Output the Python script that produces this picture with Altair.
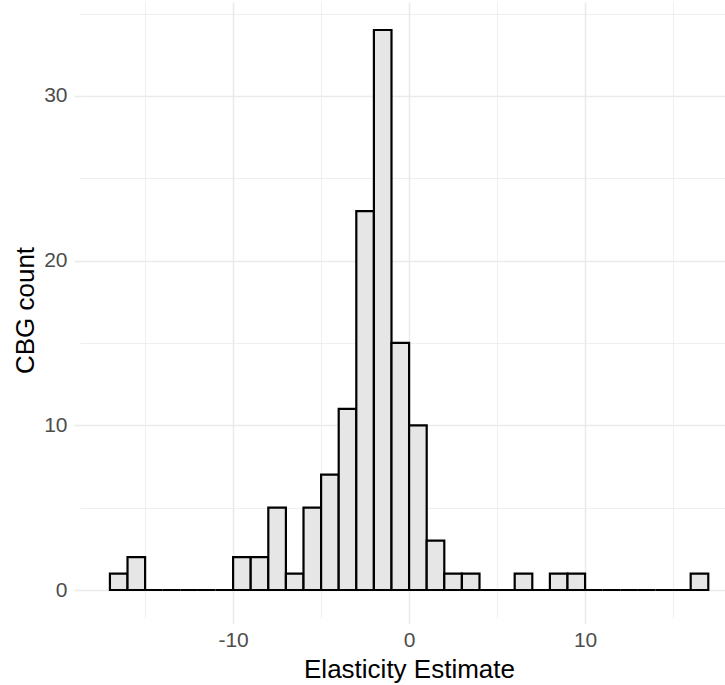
import altair as alt
import pandas as pd

# Histogram bins (binwidth 1) and counts
bin_start = [-17, -16, -15, -14, -13, -12, -11, -10, -9, -8, -7, -6, -5, -4, -3, -2, -1,
             0, 1, 2, 3, 4, 5, 6, 7, 8, 9, 10, 11, 12, 13, 14, 15, 16]
bin_end = [-16, -15, -14, -13, -12, -11, -10, -9, -8, -7, -6, -5, -4, -3, -2, -1, 0,
           1, 2, 3, 4, 5, 6, 7, 8, 9, 10, 11, 12, 13, 14, 15, 16, 17]
counts = [1, 2, 0, 0, 0, 0, 0, 2, 2, 5, 1, 5, 7, 11, 23, 34, 15, 10, 3, 1, 1,
          0, 0, 1, 0, 1, 1, 0, 0, 0, 0, 0, 0, 1]

x_grid_values = [-15, -10, -5, 0, 5, 10, 15]
y_grid_values = [0, 5, 10, 15, 20, 25, 30, 35]

df = pd.DataFrame({"start": bin_start, "end": bin_end, "count": counts})

FONT = "Liberation Sans"
GRID = "#EBEBEB"

major_width = {"condition": {"test": "datum.value % 10 === 0", "value": 1.6}, "value": 0.8}
major_tick = {"condition": {"test": "datum.value % 10 === 0", "value": 1}, "value": 0}

x_axis = alt.Axis(
    values=x_grid_values,
    labelExpr="datum.value % 10 === 0 ? '' + datum.value : ''",
    grid=True, gridColor=GRID, gridWidth=major_width,
    ticks=True, tickColor=GRID, tickSize=5, tickWidth=1.6, tickOpacity=major_tick,
    domain=False,
    labelFont=FONT, labelFontSize=21, labelColor="#4D4D4D",
    labelBaseline="alphabetic", labelPadding=23.7,
    labelFlush=False, labelOverlap=False,
    title="Elasticity Estimate",
    titleFont=FONT, titleFontSize=26, titleColor="black", titleFontWeight="normal",
    titleX=329, titleY=59, titleBaseline="alphabetic", titleAlign="center",
)

y_axis = alt.Axis(
    values=y_grid_values,
    labelExpr="datum.value % 10 === 0 ? '' + datum.value : ''",
    grid=True, gridColor=GRID, gridWidth=major_width,
    ticks=True, tickColor=GRID, tickSize=6, tickWidth=1.6, tickOpacity=major_tick,
    domain=False,
    labelFont=FONT, labelFontSize=21, labelColor="#4D4D4D",
    labelAlign="right", labelBaseline="middle", labelPadding=7,
    labelFlush=False, labelOverlap=False,
    title="CBG count",
    titleFont=FONT, titleFontSize=26, titleColor="black", titleFontWeight="normal",
    titleAngle=270, titleX=-47, titleY=308, titleBaseline="alphabetic", titleAlign="center",
)

chart = alt.Chart(df).mark_rect(
    fill="#E6E6E6", stroke="black", strokeWidth=2.2
).encode(
    x=alt.X("start:Q", scale=alt.Scale(domain=[-18.7, 17.95], nice=False, zero=False), axis=x_axis),
    x2="end:Q",
    y=alt.Y("count:Q", scale=alt.Scale(domain=[-1.7, 35.7], nice=False, zero=False), axis=y_axis),
    y2=alt.datum(0),
).properties(
    width=645,
    height=616,
    autosize=alt.AutoSizeParams(type="none"),
    padding={"left": 80, "top": 2, "right": 0, "bottom": 65},
).configure(
    background="white"
).configure_view(
    stroke=None
)

chart.save("out.html", embed_options={"renderer": "svg", "actions": False})
